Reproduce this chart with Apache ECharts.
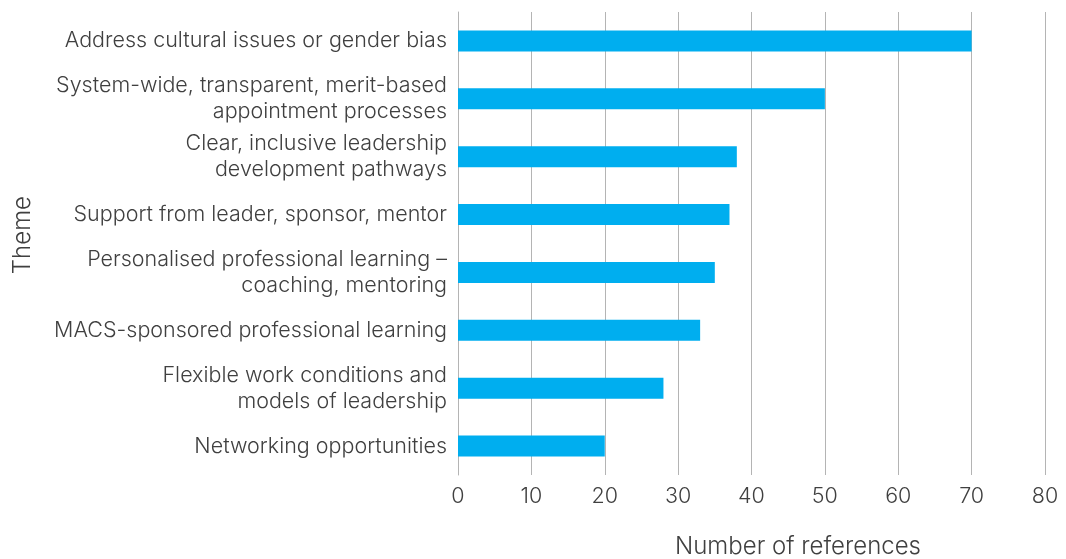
<!DOCTYPE html>
<html>
<head>
    <meta charset="utf-8">
    <title>Theme chart</title>
    <script src="https://cdn.jsdelivr.net/npm/echarts@6/dist/echarts.min.js"></script>
    <style>
        html, body { margin: 0; padding: 0; background: #fff; }
        #main { width: 1066px; height: 559px; }
    </style>
</head>
<body>
<div id="main"></div>
<script>
    // categories listed bottom to top (category axis is drawn upward)
    var themes = [
        'Networking opportunities',
        'Flexible work conditions and\nmodels of leadership',
        'MACS-sponsored professional learning',
        'Personalised professional learning –\ncoaching, mentoring',
        'Support from leader, sponsor, mentor',
        'Clear, inclusive leadership\ndevelopment pathways',
        'System-wide, transparent, merit-based\nappointment processes',
        'Address cultural issues or gender bias'
    ];
    var references = [20, 28, 33, 35, 37, 38, 50, 70];
    var xTicks = [0, 10, 20, 30, 40, 50, 60, 70, 80];

    var font = 'Inter, "Noto Sans", sans-serif';
    var textColor = '#404040';

    var myChart = echarts.init(document.getElementById('main'));
    myChart.setOption({
        animation: false,
        textStyle: {fontFamily: font},
        grid: {left: 458, right: 21, top: 12, bottom: 84, containLabel: false},
        xAxis: {
            type: 'value',
            min: xTicks[0],
            max: xTicks[xTicks.length - 1],
            interval: 10,
            axisLine: {show: false},
            axisTick: {show: false},
            splitLine: {show: true, lineStyle: {color: '#b4b4b4', width: 1}},
            axisLabel: {color: textColor, fontSize: 21.5, fontWeight: 300, margin: 11, fontFamily: font}
        },
        yAxis: {
            type: 'category',
            data: themes,
            axisLine: {show: true, lineStyle: {color: '#b4b4b4'}},
            axisTick: {show: false},
            axisLabel: {
                color: textColor, fontSize: 21.5, fontWeight: 300, margin: 11, lineHeight: 26,
                align: 'right', fontFamily: font
            }
        },
        series: [{
            type: 'bar',
            data: references,
            barWidth: 21,
            itemStyle: {color: '#00aeef'}
        }],
        graphic: [
            {
                type: 'text', left: 675, top: 535,
                style: {text: 'Number of references', fill: textColor, font: '300 24px ' + font}
            },
            {
                type: 'text', left: 11, top: 196, rotation: Math.PI / 2,
                style: {text: 'Theme', fill: textColor, font: '300 24px ' + font}
            }
        ]
    });
</script>
</body>
</html>
